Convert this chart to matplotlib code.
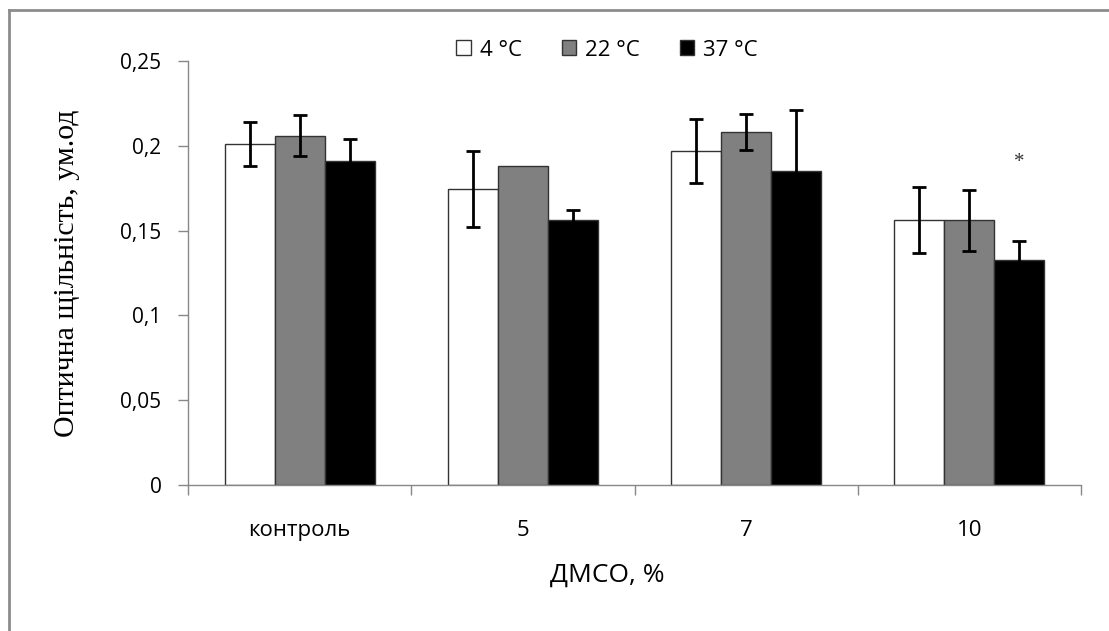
import numpy as np
import matplotlib
matplotlib.use('Agg')
import matplotlib.pyplot as plt
from matplotlib.lines import Line2D

categories = ['контроль', '5', '7', '10']
series = ['4 °C', '22 °C', '37 °C']
colors = ['white', '#808080', 'black']

vals_4 = [0.201, 0.1745, 0.197, 0.156]
vals_22 = [0.206, 0.188, 0.208, 0.156]
vals_37 = [0.191, 0.156, 0.185, 0.1327]

err_4 = [0.013, 0.0225, 0.019, 0.0195]
err_22 = [0.012, 0.0, 0.0105, 0.018]
err_37 = [0.013, 0.006, 0.036, 0.011]

yticks = [0, 0.05, 0.1, 0.15, 0.2, 0.25]
ytick_labels = ['0', '0,05', '0,1', '0,15', '0,2', '0,25']

sans = ['Open Sans', 'DejaVu Sans']
serif = ['Liberation Serif', 'DejaVu Serif']

fig = plt.figure(figsize=(11.09, 6.31), dpi=100)
W, H = 1109, 631
ax = fig.add_axes([188 / W, (H - 485) / H, (1081 - 188) / W, (485 - 61) / H])

x = np.arange(len(categories))
w = 0.224
allv = [vals_4, vals_22, vals_37]
alle = [err_4, err_22, err_37]
for i in range(3):
    pos = x + (i - 1) * w
    ax.bar(pos, allv[i], width=w, color=colors[i], edgecolor='#333333',
           linewidth=1.0, zorder=2)
    e = np.array(alle[i])
    m = e > 0
    ax.errorbar(pos[m], np.array(allv[i])[m], yerr=e[m], fmt='none',
                ecolor='black', elinewidth=2, capsize=5, capthick=2, zorder=3)

# significance mark
ax.text(x[3] + 1.0 * w, 0.19, '*', ha='center', va='center',
        fontsize=15, family=serif, color='#333333')

ax.set_xlim(-0.5, len(categories) - 0.5)
ax.set_ylim(0, 0.25)
ax.set_yticks(yticks)
ax.set_yticklabels(ytick_labels, family=sans, fontsize=15)
ax.set_xticks(x)
ax.set_xticklabels(categories, family=sans, fontsize=16)
ax.set_xticks(np.arange(len(categories) + 1) - 0.5, minor=True)
ax.tick_params(axis='x', which='major', length=0, pad=25)
ax.tick_params(axis='x', which='minor', length=7, color='#888888', width=1)
ax.tick_params(axis='y', length=7, color='#888888', width=1, pad=12)

for s in ['top', 'right']:
    ax.spines[s].set_visible(False)
for s in ['left', 'bottom']:
    ax.spines[s].set_color('#888888')
    ax.spines[s].set_linewidth(1)

ax.set_xlabel('ДМСО, %', family=sans, fontsize=19)
ax.xaxis.set_label_coords((607 - 188) / 893, (485 - 575) / 424)
ax.xaxis.label.set_va('center')
ax.set_ylabel('Оптична щільність, ум.од', family=serif, fontsize=21.5)
ax.yaxis.set_label_coords((67 - 188) / 893, 0.5)
ax.yaxis.label.set_va('center')

handles = [plt.Rectangle((0, 0), 1, 1, facecolor=c, edgecolor='#333333', linewidth=1)
           for c in colors]
leg = fig.legend(handles, series, loc='center', bbox_to_anchor=(607 / W, 1 - 50 / H),
                 ncol=3, frameon=False, prop={'family': sans, 'size': 16},
                 handlelength=0.65, handleheight=0.65, handletextpad=0.4,
                 columnspacing=1.8)

# outer frame (top and left edges visible)
fig.add_artist(Line2D([9 / W, 9 / W], [0, 1 - 10 / H], color='#8c8c8c', lw=2,
                      transform=fig.transFigure))
fig.add_artist(Line2D([9 / W, 1], [1 - 10 / H, 1 - 10 / H], color='#8c8c8c', lw=2,
                      transform=fig.transFigure))

fig.savefig('out.png', dpi=100)
